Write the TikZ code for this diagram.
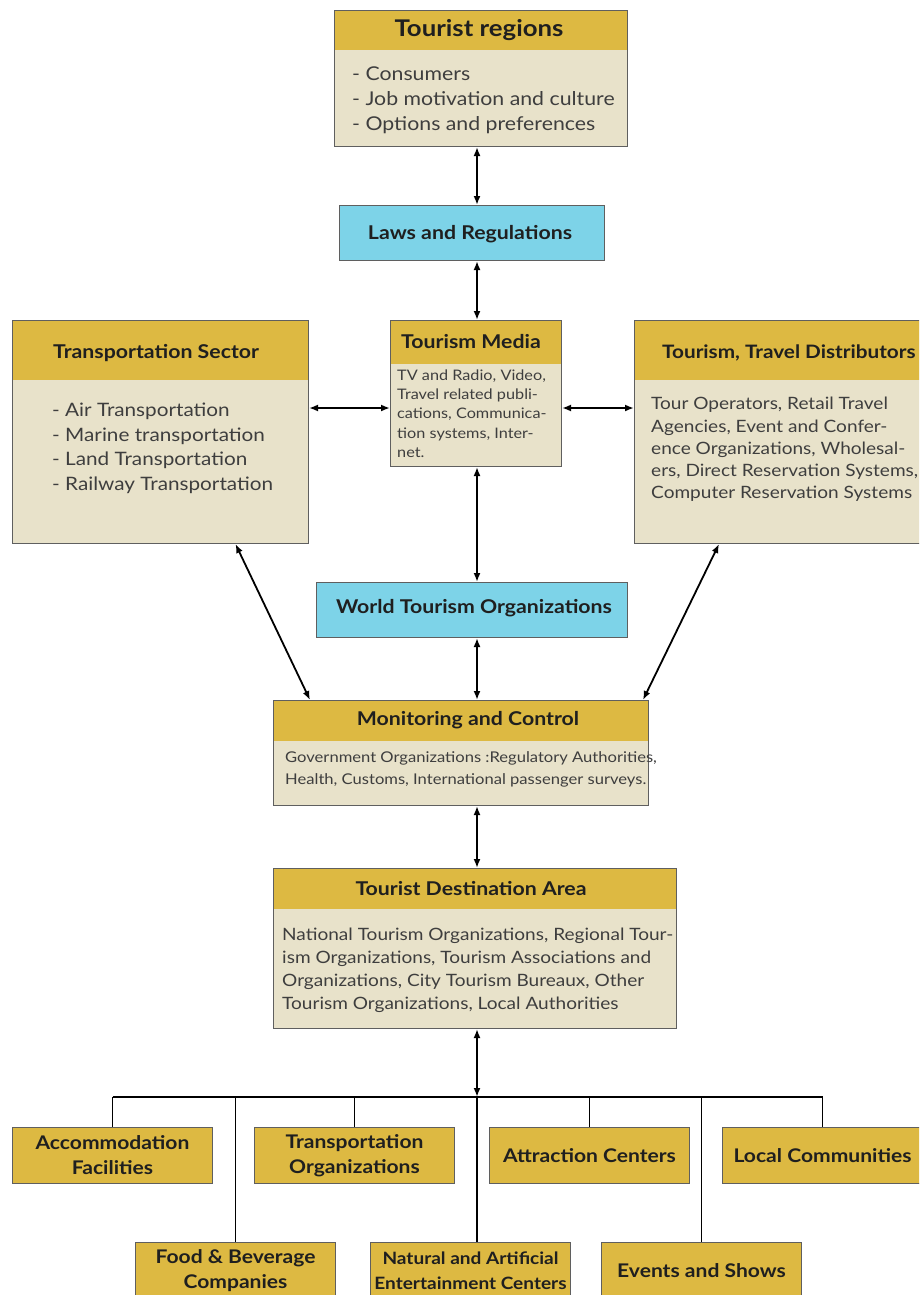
\documentclass[tikz,border=0pt]{standalone}
\usepackage{fontspec}
\setmainfont{Lato}[FakeStretch=1.12]
\usetikzlibrary{arrows.meta}

\definecolor{headgold}{RGB}{221,185,66}
\definecolor{bodybeige}{RGB}{232,226,202}
\definecolor{lawblue}{RGB}{125,211,232}
\definecolor{edgegray}{RGB}{95,95,95}
\definecolor{bodytext}{RGB}{62,62,62}

\tikzset{
  bigbox/.style={draw=edgegray, fill=bodybeige, line width=1pt, anchor=north west, inner sep=0pt,
    path picture={\fill[headgold] (path picture bounding box.north west) rectangle ([yshift=-#1]path picture bounding box.north east);}},
  bluebox/.style={draw=edgegray, fill=lawblue, line width=1pt, anchor=north west, inner sep=0pt},
  goldbox/.style={draw=edgegray, fill=headgold, line width=1pt, anchor=north west, inner sep=0pt,
    minimum width=200pt, minimum height=56pt, align=center, text=black!88,
    font=\bfseries\fontsize{18.8}{25}\selectfont},
  boxtitle/.style={font=\bfseries\fontsize{19}{22}\selectfont, text=black!88, inner sep=0pt},
  boxtext/.style={anchor=north west, align=left, inner sep=0pt, text=bodytext},
  link/.style={line width=1.8pt, {Latex[length=9pt,width=7pt]}-{Latex[length=9pt,width=7pt]}},
  branch/.style={line width=1.6pt},
}

\begin{document}
\begin{tikzpicture}[x=1pt,y=-1pt]
  \useasboundingbox (0,0) rectangle (919,1295);
  \clip (0,0) rectangle (919,1295);

  % spine of the vertical links
  \coordinate (axis) at (477,0);
  \coordinate (row) at (0,408);
  \coordinate (bus) at (477,1097);

  % Tourist regions
  \node[bigbox=40pt, minimum width=293pt, minimum height=136pt] (regions) at (334,10) {};
  \node[boxtitle, font=\bfseries\fontsize{23}{26}\selectfont] at (479,30) {Tourist regions};
  \node[boxtext, font=\fontsize{19}{25}\selectfont] at (352,67)
    {- Consumers\\- Job motivation and culture\\- Options and preferences};

  % Laws and Regulations
  \node[bluebox, minimum width=265pt, minimum height=55pt] (laws) at (339,205) {};
  \node[boxtitle] at (470,234) {Laws and Regulations};

  % Tourism Media
  \node[bigbox=43pt, minimum width=171pt, minimum height=146pt] (media) at (390,320) {};
  \node[boxtitle] at (471,342) {Tourism Media};
  \node[boxtext, font=\fontsize{14.5}{19.3}\selectfont] at (397,369.5)
    {TV and Radio, Video,\\Travel related publi-\\cations, Communica-\\tion systems, Inter-\\net.};

  % Transportation Sector
  \node[bigbox=59pt, minimum width=296pt, minimum height=223pt] (transport) at (12,320) {};
  \node[boxtitle, anchor=west] at (53,353) {Transportation Sector};
  \node[boxtext, font=\fontsize{18.5}{24.5}\selectfont] at (52,403)
    {- Air Transportation\\- Marine transportation\\- Land Transportation\\- Railway Transportation};

  % Tourism, Travel Distributors
  \node[bigbox=59pt, minimum width=311pt, minimum height=223pt] (distrib) at (634,320) {};
  \node[boxtitle, anchor=west, font=\bfseries\fontsize{18.5}{22}\selectfont] at (662,353) {Tourism, Travel Distributors};
  \node[boxtext, font=\fontsize{17}{22.3}\selectfont] at (651,397)
    {Tour Operators, Retail Travel\\Agencies, Event and Confer-\\ence Organizations, Wholesal-\\ers, Direct Reservation Systems,\\Computer Reservation Systems};

  % World Tourism Organizations
  \node[bluebox, minimum width=311pt, minimum height=55pt] (wto) at (316,582) {};
  \node[boxtitle] at (474,608) {World Tourism Organizations};

  % Monitoring and Control
  \node[bigbox=40pt, minimum width=375pt, minimum height=105pt] (monitor) at (273,700) {};
  \node[boxtitle] at (468,720) {Monitoring and Control};
  \node[boxtext, font=\fontsize{14.8}{22}\selectfont] at (285,751)
    {Government Organizations :Regulatory Authorities,\\Health, Customs, International passenger surveys.};

  % Tourist Destination Area
  \node[bigbox=40pt, minimum width=403pt, minimum height=160pt] (dest) at (273,868) {};
  \node[boxtitle] at (471,889) {Tourist Destination Area};
  \node[boxtext, font=\fontsize{17}{23}\selectfont] at (282,927.5)
    {National Tourism Organizations, Regional Tour-\\ism Organizations, Tourism Associations and\\Organizations, City Tourism Bureaux, Other\\Tourism Organizations, Local Authorities};

  % Destination components
  \node[goldbox] (accom) at (12,1127) {Accommodation\\Facilities};
  \node[goldbox] (transorg) at (254,1127) {Transportation\\Organizations};
  \node[goldbox] (attract) at (489,1127) {Attraction Centers};
  \node[goldbox] (local) at (722,1127) {Local Communities};
  \node[goldbox] (food) at (135,1242) {Food \& Beverage\\Companies};
  \node[goldbox, font=\bfseries\fontsize{17}{25}\selectfont] (natural) at (370,1242) {Natural and Artificial\\Entertainment Centers};
  \node[goldbox] (events) at (601,1242) {Events and Shows};

  % Links
  \draw[link] (axis |- regions.south) -- (axis |- laws.north);
  \draw[link] (axis |- laws.south) -- (axis |- media.north);
  \draw[link] (row -| transport.east) -- (row -| media.west);
  \draw[link] (row -| media.east) -- (row -| distrib.west);
  \draw[link] (axis |- media.south) -- (axis |- wto.north);
  \draw[link] (axis |- wto.south) -- (axis |- monitor.north);
  \draw[link] ([xshift=75pt]transport.south) -- ([xshift=37pt]monitor.north west);
  \draw[link] ([xshift=-71pt]distrib.south) -- ([xshift=-6pt]monitor.north east);
  \draw[link] (axis |- monitor.south) -- (axis |- dest.north);
  \draw[link] (axis |- dest.south) -- (bus);

  % Branches
  \draw[branch] (accom.north |- bus) -- (local.north |- bus);
  \foreach \b in {accom,transorg,attract,local,food,events}
    \draw[branch] (\b.north |- bus) -- (\b.north);
  \draw[branch] (bus) -- (bus |- natural.north);

\end{tikzpicture}
\end{document}
